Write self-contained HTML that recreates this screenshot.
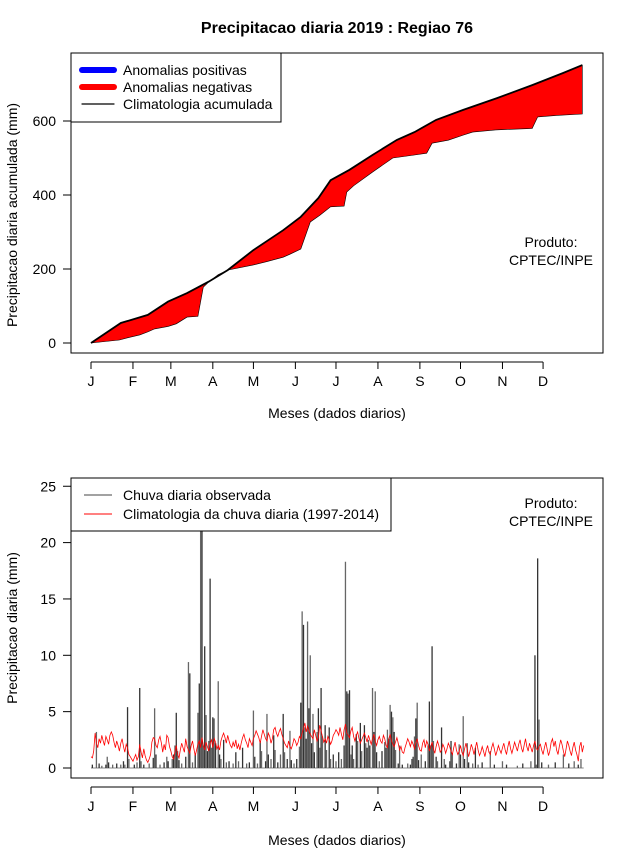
<!DOCTYPE html>
<html><head><meta charset="utf-8">
<style>
html,body{margin:0;padding:0;background:#fff;}
svg{display:block;font-family:"Liberation Sans",sans-serif;}
</style></head>
<body>
<svg id="chart" width="640" height="850" viewBox="0 0 640 850">
<text x="337" y="33" text-anchor="middle" font-size="16" font-weight="bold">Precipitacao diaria 2019 : Regiao 76</text>
<g id="topchart"></g>
<g id="botchart"></g>
</svg>
<script>
// ---- Top chart data (cumulative) ----
const climCumDays = [1,23,43,58,72,88,102,121,143,156,169,178,192,209,227,240,256,276,301,327,350,364];
const climCumVals = [0,54,76,112,135,166,197,251,305,341,392,440,468,508,549,570,603,630,662,697,730,751];
const obsCumDays = [1,22,28,37,43,48,58,64,72,80,84,88,95,102,121,131,143,148,156,163,170,178,188,190,195,209,224,240,249,253,265,276,283,300,327,331,345,364];
const obsCumVals = [0,8,14,22,30,38,45,52,70,72,151,165,185,197,211,220,232,240,254,327,345,368,370,408,425,462,500,508,513,540,548,562,570,576,580,611,615,619];
const topTicks = [0,200,400,600];
// ---- Bottom chart data ----
const monthLabels = ["J","F","M","A","M","J","J","A","S","O","N","D"];
const monthStartDays = [1,32,60,91,121,152,182,213,244,274,305,335];
const botTicks = [0,5,10,15,20,25];
const obsDays = [2,5,7,9,12,13,14,17,20,23,25,26,28,29,
33,35,37,38,40,44,47,48,49,52,55,57,58,
61,62,63,64,65,66,68,71,73,74,76,78,80,81,82,83,84,85,86,87,88,89,90,
91,92,93,95,96,97,99,101,103,106,108,110,113,116,118,
121,122,124,126,127,130,131,132,134,136,137,139,141,143,144,146,148,149,151,
153,155,156,157,158,159,160,161,162,163,164,165,166,168,169,170,171,172,174,175,177,178,180,
182,184,186,188,189,190,191,192,193,194,195,197,198,200,201,203,204,205,206,207,209,210,211,212,
214,216,218,219,220,221,222,223,224,225,226,228,229,231,235,237,238,239,240,241,242,
243,245,248,250,251,252,253,254,256,257,260,262,263,266,267,268,271,273,
274,276,277,279,280,283,285,287,290,296,299,
305,308,316,320,326,
329,330,331,332,334,339,344,350,354,358,361,363];
const obsValues = [0.3,3.2,0.4,0.2,0.3,1.0,0.5,0.3,0.4,0.3,0.6,0.3,5.4,0.8,
0.3,0.5,7.1,0.6,0.3,0.4,0.9,5.3,1.2,0.3,0.5,1.0,0.6,
0.8,1.2,2.0,4.9,1.5,0.7,0.4,1.0,9.4,8.4,0.5,1.2,4.9,7.5,26,21.5,2.0,10.8,4.7,1.5,2.4,16.8,1.8,
4.5,4.4,2.2,7.7,1.2,0.8,2.5,0.5,0.6,0.4,1.4,0.6,1.8,0.4,0.5,
5.1,1.0,0.4,2.4,1.5,0.6,4.8,1.2,0.8,2.9,1.6,0.5,1.2,4.8,1.4,0.8,3.3,0.7,0.4,
0.8,1.9,5.8,13.9,12.7,3.6,2.6,13.0,5.3,10.0,2.2,4.8,1.4,3.2,5.3,1.8,7.1,2.8,3.8,1.6,3.6,0.8,1.2,
0.6,1.4,0.8,2.0,18.3,6.8,6.6,6.9,1.2,2.0,0.8,3.0,2.4,4.0,1.5,3.8,2.2,1.8,2.5,2.0,7.1,3.2,6.8,1.4,
0.6,1.5,2.3,1.8,3.4,2.6,5.6,5.0,4.5,3.2,1.6,0.4,2.0,0.3,0.4,0.3,0.8,1.0,2.8,4.4,5.8,
0.7,1.2,0.6,2.0,5.9,2.0,10.8,2.4,1.0,0.6,3.6,0.8,0.3,0.6,2.4,1.3,0.4,2.1,
1.2,4.6,0.8,2.2,0.5,0.4,1.8,0.3,0.5,1.5,0.3,
0.6,0.3,0.2,0.4,0.6,
10.0,0.3,18.6,4.3,0.5,0.3,0.5,1.2,0.4,0.6,0.3,0.8];
const climDaily = [1.0,0.9,1.5,3.1,2.2,1.8,2.6,2.2,2.9,2.4,2.0,2.8,2.5,2.1,2.9,3.2,2.9,2.3,1.8,2.4,2.0,1.5,2.2,2.6,1.9,1.4,2.1,1.8,1.2,1.0,0.8,
0.6,0.9,1.2,0.7,1.0,2.1,1.4,0.9,1.7,1.1,0.7,0.5,0.8,1.2,2.3,2.7,2.6,2.0,1.8,2.5,2.8,2.2,1.4,2.1,1.6,2.9,2.7,1.9,
1.5,1.0,0.8,1.4,2.0,1.2,0.9,1.6,2.2,1.8,1.4,2.6,1.9,1.6,1.3,2.0,2.4,1.7,1.1,1.6,2.1,2.4,1.8,2.7,2.0,1.6,2.3,1.9,1.5,2.2,2.5,
1.8,2.6,2.3,1.7,2.0,1.6,2.4,2.8,3.1,2.7,2.2,2.9,2.4,2.0,1.8,2.3,1.9,2.5,1.7,2.1,1.6,2.2,2.7,3.0,2.5,2.2,1.8,2.6,2.3,2.0,
2.6,2.9,3.3,3.0,2.7,2.2,2.8,3.4,3.0,2.6,2.4,3.1,2.8,2.2,2.6,3.4,3.6,3.1,2.8,3.2,3.5,3.0,2.6,2.2,2.0,1.8,2.4,1.9,1.7,2.1,2.6,
2.4,2.0,2.3,2.8,2.6,3.1,3.5,4.0,3.2,3.7,3.3,3.0,2.8,2.6,3.4,2.9,2.4,2.7,3.8,3.3,2.8,2.3,2.6,2.2,2.8,2.5,2.1,2.4,2.9,3.1,
3.4,3.2,2.9,3.6,3.0,2.5,3.4,3.9,3.1,2.9,2.7,3.3,3.6,2.8,2.4,2.9,3.2,2.6,2.2,2.5,2.8,3.1,2.7,2.3,2.9,2.5,2.1,2.6,3.0,2.4,2.0,
2.5,2.8,2.4,2.2,2.9,2.6,2.0,1.8,2.6,3.0,2.4,2.1,1.9,2.3,2.7,2.2,1.6,1.9,1.4,1.3,1.8,2.2,2.6,2.3,1.9,2.4,2.1,1.7,2.2,2.6,2.0,
1.6,1.5,2.2,2.5,1.8,2.4,2.1,1.5,1.9,2.3,1.7,1.3,1.9,2.4,2.0,1.4,1.6,2.1,1.8,1.3,1.7,2.2,1.9,1.5,1.2,1.8,2.3,1.6,1.2,1.5,
2.0,1.4,1.1,1.7,2.2,1.6,1.0,1.5,2.1,1.7,1.2,1.8,2.3,1.6,1.1,1.4,1.9,1.5,1.0,1.6,2.0,1.4,1.2,1.8,2.2,1.7,1.1,1.5,2.0,1.6,1.3,
1.8,2.2,1.6,1.2,1.9,2.4,1.7,1.3,1.8,2.3,1.9,1.5,2.1,2.5,1.8,1.4,2.0,2.6,1.9,1.5,2.2,1.8,1.4,2.0,2.4,1.7,1.6,1.9,2.1,1.6,
1.2,1.8,2.3,1.7,1.1,1.5,2.3,2.6,1.9,2.4,1.6,1.2,1.9,2.5,2.1,1.5,1.0,1.7,2.4,2.0,1.5,1.1,1.8,2.3,1.6,1.2,0.6,1.9,2.3,1.4,2.0];

const NS="http://www.w3.org/2000/svg";
function mk(parent,tag,attrs,text){const e=document.createElementNS(NS,tag);for(const k in attrs)e.setAttribute(k,attrs[k]);if(text!==undefined)e.textContent=text;parent.appendChild(e);return e;}
const xDay = d => 91 + (d-1)*1.3535;
const yTop = v => 343 - v*0.37;
const yBot = v => 768 - v*11.27;
const topG=document.getElementById('topchart'), botG=document.getElementById('botchart');

function axes(g, plotTop, plotBot, ticks, yf, axisY, ytitle, ytitleY, xlabY){
  let b=mk(g,'rect',{x:71,y:plotTop,width:532,height:plotBot-plotTop,fill:'none',stroke:'#000','stroke-width':1});
  
  
  let yl=mk(g,'line',{x1:71,x2:71,y1:yf(ticks[0]),y2:yf(ticks[ticks.length-1]),stroke:'#000'});
  
  
  ticks.forEach(t=>{
    let tl=mk(g,'line',{x1:63,x2:71,y1:yf(t),y2:yf(t),stroke:'#000'});
    
    
    let tx=mk(g,'text',{x:56,y:yf(t)+5,'text-anchor':'end','font-size':14},String(t));
    
    
  });
  let xl=mk(g,'line',{x1:xDay(monthStartDays[0]),x2:xDay(monthStartDays[11]),y1:axisY,y2:axisY,stroke:'#000'});
  
  
  monthStartDays.forEach((d,i)=>{
    let tl=mk(g,'line',{x1:xDay(d),x2:xDay(d),y1:axisY,y2:axisY+7,stroke:'#000'});
    
    
    let tx=mk(g,'text',{x:xDay(d),y:axisY+24,'text-anchor':'middle','font-size':14},monthLabels[i]);
    
    
  });
  let xt=mk(g,'text',{x:337,y:xlabY,'text-anchor':'middle','font-size':14},'Meses (dados diarios)');
  
  
  let yt=mk(g,'text',{x:17,y:ytitleY,'text-anchor':'middle','font-size':14,transform:`rotate(-90 17 ${ytitleY})`},ytitle);
  
  
}

// ---- top chart ----
axes(topG,53,353,topTicks,yTop,362,'Precipitacao diaria acumulada (mm)',215,418);
let pts=[];
climCumDays.forEach((d,i)=>pts.push(xDay(d).toFixed(1)+','+yTop(climCumVals[i]).toFixed(1)));
for(let i=obsCumDays.length-1;i>=0;i--) pts.push(xDay(obsCumDays[i]).toFixed(1)+','+yTop(obsCumVals[i]).toFixed(1));
let area=mk(topG,'polygon',{points:pts.join(' '),fill:'#ff0000',stroke:'#000','stroke-width':0.6});


let cl=mk(topG,'polyline',{points:climCumDays.map((d,i)=>xDay(d).toFixed(1)+','+yTop(climCumVals[i]).toFixed(1)).join(' '),fill:'none',stroke:'#000','stroke-width':1.8});


let lg=mk(topG,'g',{});


mk(lg,'rect',{x:71,y:53,width:210,height:69,fill:'#fff',stroke:'#000'});
[['#0000ff',6,'Anomalias positivas',70],['#ff0000',6,'Anomalias negativas',87],['#000',1.2,'Climatologia acumulada',104]].forEach(e=>{
  let it=mk(lg,'g',{});
  
  
  mk(it,'line',{x1:82,x2:114,y1:e[3],y2:e[3],stroke:e[0],'stroke-width':e[1],'stroke-linecap':'round'});
  mk(it,'text',{x:123,y:e[3]+5,'font-size':14},e[2]);
});
let p1=mk(topG,'text',{x:551,y:247,'text-anchor':'middle','font-size':14},'Produto:');


let p2=mk(topG,'text',{x:551,y:265,'text-anchor':'middle','font-size':14},'CPTEC/INPE');



// ---- bottom chart ----
axes(botG,478,778,botTicks,yBot,787,'Precipitacao diaria (mm)',628,845);
let cp=mk(botG,'clipPath',{id:'clipb'});
mk(cp,'rect',{x:71,y:478,width:532,height:300});
let bars=mk(botG,'g',{'clip-path':'url(#clipb)'});


mk(bars,'line',{x1:xDay(1),x2:xDay(365),y1:yBot(0),y2:yBot(0),stroke:'#888','stroke-width':1});
obsDays.forEach((d,i)=>{
  let b=mk(bars,'line',{x1:xDay(d),x2:xDay(d),y1:yBot(0),y2:yBot(obsValues[i]),stroke:(i%2?'#666':'#333'),'stroke-width':1.3});
  
  
});
let rl=mk(botG,'polyline',{points:climDaily.map((v,i)=>xDay(i+1).toFixed(1)+','+yBot(v).toFixed(1)).join(' '),fill:'none',stroke:'#ff0000','stroke-width':0.8});


let lg2=mk(botG,'g',{});


mk(lg2,'rect',{x:71,y:478,width:320,height:53,fill:'#fff',stroke:'#000'});
[['#444','Chuva diaria observada',495],['#ff0000','Climatologia da chuva diaria (1997-2014)',514]].forEach(e=>{
  let it=mk(lg2,'g',{});
  
  
  mk(it,'line',{x1:84,x2:112,y1:e[2],y2:e[2],stroke:e[0],'stroke-width':1});
  mk(it,'text',{x:123,y:e[2]+5,'font-size':14},e[1]);
});
let p3=mk(botG,'text',{x:551,y:508,'text-anchor':'middle','font-size':14},'Produto:');


let p4=mk(botG,'text',{x:551,y:526,'text-anchor':'middle','font-size':14},'CPTEC/INPE');


</script>
</body></html>
